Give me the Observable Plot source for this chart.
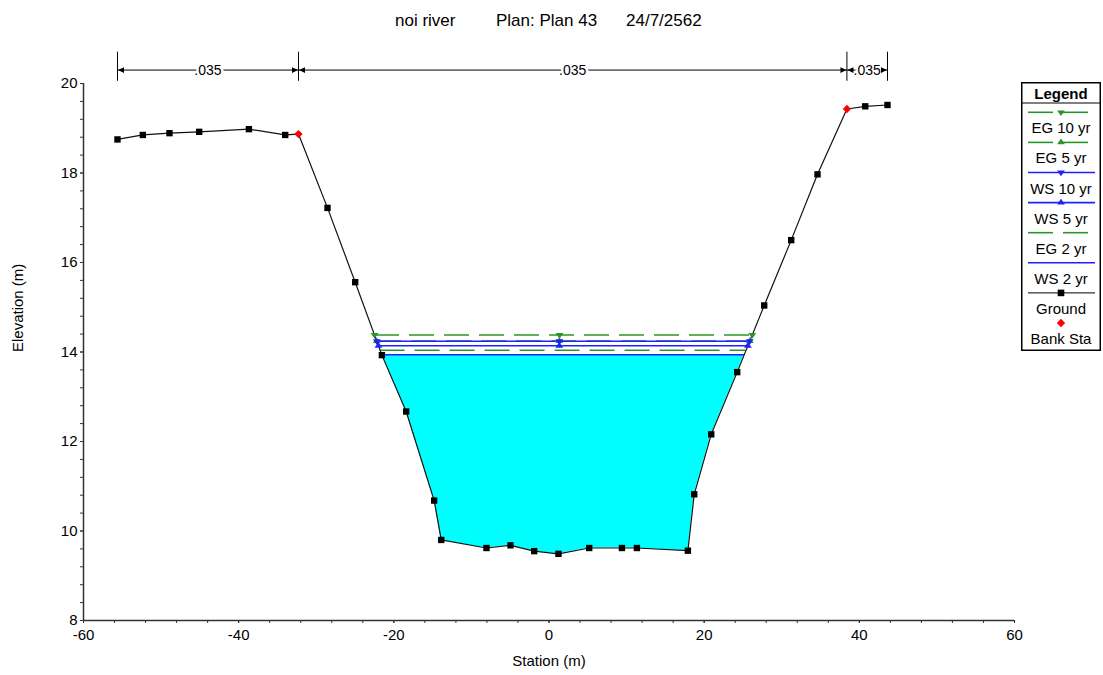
<!DOCTYPE html>
<html><head><meta charset="utf-8">
<script src="https://cdn.jsdelivr.net/npm/d3@7"></script>
<script src="https://cdn.jsdelivr.net/npm/@observablehq/plot@0.6"></script>
<style>
body{margin:0;background:#fff;font-family:"Liberation Sans",Arial,sans-serif;}
#wrap{position:relative;width:1103px;height:675px;overflow:hidden;background:#fff;}
#title{position:relative;height:30px;font-size:17px;color:#000;}
#title span{position:absolute;top:12px;line-height:17px;white-space:pre;}
#chart svg{display:block;}
#legend{position:absolute;left:1021px;top:82px;z-index:2;}
</style></head><body>
<div id="wrap">
<div id="title"></div>
<div id="chart"></div>
<svg id="legend"></svg>
</div>
<script>
// ---- data ----
const titleParts = ["noi river", "Plan: Plan 43", "24/7/2562"];
const groundStation = [-55.62,-52.35,-48.92,-45.09,-38.68,-34.00,-32.29,-28.55,-24.98,-21.54,-18.41,-14.80,-13.89,-8.06,-4.96,-1.91,1.22,5.18,9.40,11.33,17.90,18.72,20.91,24.26,27.74,31.22,34.61,38.40,40.76,43.63];
const groundElev = [18.75,18.85,18.89,18.92,18.98,18.85,18.87,17.22,15.56,13.93,12.67,10.68,9.80,9.62,9.68,9.55,9.49,9.62,9.62,9.62,9.56,10.82,12.16,13.55,15.04,16.50,17.97,19.43,19.49,19.52];
const bankStations = [-32.29, 38.40];
const profileNames = ["EG 10 yr","EG 5 yr","WS 10 yr","WS 5 yr","EG 2 yr","WS 2 yr"];
const profileElev = [14.38, 14.245, 14.24, 14.14, 14.04, 13.94];
const nValues = [0.035, 0.035, 0.035];
const xTicks = [-60,-40,-20,0,20,40,60];
const yTicks = [8,10,12,14,16,18,20];
const xLabel = "Station (m)";
const yLabel = "Elevation (m)";

// ---- title ----
const titleLeft = [395, 496, 626];
d3.select("#title").selectAll("span").data(titleParts).join("span")
  .style("left", (d,i)=>titleLeft[i]+"px").text(d=>d);

// ---- derived ----
const GREEN = "#2a962a", BLUE = "#2020ff";
const ground = groundStation.map((x,i)=>({x, y: groundElev[i]}));
const isBank = x => bankStations.includes(x);
const bankPts = ground.filter(d=>isBank(d.x));
const plainPts = ground.filter(d=>!isBank(d.x));

function crossings(level){
  const iMin = d3.minIndex(ground, d=>d.y);
  let i = iMin; while (i>0 && ground[i-1].y < level) i--;
  const a = ground[i-1], b = ground[i];
  const xL = a.x + (level-a.y)/(b.y-a.y)*(b.x-a.x);
  let j = iMin; while (j<ground.length-1 && ground[j+1].y < level) j++;
  const c = ground[j], e = ground[j+1];
  const xR = c.x + (level-c.y)/(e.y-c.y)*(e.x-c.x);
  return {xL, xR, i, j};
}
const profiles = profileNames.map((name,k)=>{
  const elev = profileElev[k];
  const cr = crossings(elev);
  return {name, elev, xL: cr.xL, xR: cr.xR, i: cr.i, j: cr.j,
    eg: name.startsWith("EG"),
    dir: name.includes("10 yr") ? "down" : name.includes("5 yr") ? "up" : null};
});
const ws2 = profiles.find(p=>p.name==="WS 2 yr");
const water = [{x: ws2.xL, y: ws2.elev, top: ws2.elev},
  ...ground.slice(ws2.i, ws2.j+1).map(d=>({...d, top: ws2.elev})),
  {x: ws2.xR, y: ws2.elev, top: ws2.elev}];
const markerPts = profiles.filter(p=>p.dir).flatMap(p=>[p.xL,(p.xL+p.xR)/2 - 0.5,p.xR].map(x=>({x, y:p.elev, p})));

// n-value annotation
const nStations = [groundStation[0], ...bankStations, groundStation[groundStation.length-1]];
const nSegs = nValues.map((v,k)=>({x1: nStations[k], x2: nStations[k+1], mid:(nStations[k]+nStations[k+1])/2, label: d3.format(".3f")(v).replace(/^0/,"")}));
const yTop = d3.max(yTicks);
const nY = yTop + 0.30;

// custom symbols
const triDown = {draw(ctx, size){const r=Math.sqrt(size/Math.PI);const w=1.3*r,h=1.9*r;ctx.moveTo(-w,-h/3);ctx.lineTo(w,-h/3);ctx.lineTo(0,2*h/3);ctx.closePath();}};
const triUp = {draw(ctx, size){const r=Math.sqrt(size/Math.PI);const w=1.3*r,h=1.9*r;ctx.moveTo(-w,h/3);ctx.lineTo(w,h/3);ctx.lineTo(0,-2*h/3);ctx.closePath();}};
const diamond = {draw(ctx, size){const r=Math.sqrt(size/Math.PI)*1.15;ctx.moveTo(0,-r);ctx.lineTo(r,0);ctx.lineTo(0,r);ctx.lineTo(-r,0);ctx.closePath();}};
const arrowL = {draw(ctx){ctx.moveTo(0.5,0);ctx.lineTo(6.5,-2.8);ctx.lineTo(6.5,2.8);ctx.closePath();}};
const arrowR = {draw(ctx){ctx.moveTo(-0.5,0);ctx.lineTo(-6.5,-2.8);ctx.lineTo(-6.5,2.8);ctx.closePath();}};

const minorX = d3.range(-60, 61, 4);
const minorY = d3.range(0, 31).map(i=>8+i*0.4);

const chart = Plot.plot({
  width: 1103, height: 645,
  marginTop: 53, marginBottom: 55, marginLeft: 83, marginRight: 89,
  x: {domain: [-60, 60]},
  y: {domain: [8, 20]},
  style: {fontFamily: "'Liberation Sans', Arial, sans-serif", fontSize: "15px", color: "black", background: "white", overflow: "visible"},
  marks: [
    Plot.areaY(water, {x: "x", y1: "y", y2: "top", fill: "#00ffff", curve: "linear"}),
    Plot.ruleY(profiles.filter(p=>p.eg), {y: "elev", x1: "xL", x2: "xR", stroke: GREEN, strokeWidth: 1.6, strokeDasharray: "25,10"}),
    Plot.ruleY(profiles.filter(p=>!p.eg), {y: "elev", x1: "xL", x2: "xR", stroke: BLUE, strokeWidth: 1.6}),
    Plot.line(ground, {x: "x", y: "y", stroke: "#111", strokeWidth: 1.2}),
    Plot.dot(markerPts.filter(d=>d.p.eg && d.p.dir==="down"), {x:"x", y:"y", symbol: triDown, r: 3, fill: GREEN, stroke: "none"}),
    Plot.dot(markerPts.filter(d=>d.p.eg && d.p.dir==="up"), {x:"x", y:"y", symbol: triUp, r: 3, fill: GREEN, stroke: "none"}),
    Plot.dot(markerPts.filter(d=>!d.p.eg && d.p.dir==="down"), {x:"x", y:"y", symbol: triDown, r: 3, fill: BLUE, stroke: "none"}),
    Plot.dot(markerPts.filter(d=>!d.p.eg && d.p.dir==="up"), {x:"x", y:"y", symbol: triUp, r: 3, fill: BLUE, stroke: "none"}),
    Plot.dot(plainPts, {x: "x", y: "y", symbol: "square", r: 3.6, fill: "black", stroke: "none"}),
    Plot.dot(bankPts, {x: "x", y: "y", symbol: diamond, r: 3.6, fill: "red", stroke: "none"}),
    // n-value annotation
    Plot.ruleX(nStations, {y1: yTop + 0.05, y2: yTop + 0.70, stroke: "black", strokeWidth: 1}),
    Plot.link(nSegs, {x1: "x1", x2: "x2", y1: () => nY, y2: () => nY, stroke: "black", strokeWidth: 1}),
    Plot.text(nSegs, {x: "mid", y: () => nY, text: "label", fontSize: 14, fill: "black", stroke: "white", strokeWidth: 5}),
    Plot.dot(nSegs, {x: "x1", y: () => nY, symbol: arrowL, r: 3, fill: "black", stroke: "none"}),
    Plot.dot(nSegs, {x: "x2", y: () => nY, symbol: arrowR, r: 3, fill: "black", stroke: "none"}),
    // axes
    Plot.axisX({ticks: minorX, tickSize: 3, tickFormat: () => "", label: null, stroke: "#333"}),
    Plot.axisX({ticks: xTicks, tickSize: 3, tickPadding: 6, fontSize: 15, label: null, stroke: "#333", fill: "black", tickFormat: d => String(d)}),
    Plot.axisY({ticks: minorY, tickSize: 3, tickFormat: () => "", label: null, stroke: "#333"}),
    Plot.axisY({ticks: yTicks, tickSize: 3, tickPadding: 3, fontSize: 15, label: null, stroke: "#333", fill: "black", tickFormat: d => String(d)}),
    Plot.ruleX([-60], {stroke: "#333", strokeWidth: 1.5}),
    Plot.ruleY([8], {stroke: "#333", strokeWidth: 1.5}),
    Plot.text([xLabel], {frameAnchor: "bottom", dy: 45, fontSize: 15, fill: "black"}),
    Plot.text([yLabel], {frameAnchor: "left", dx: -65, rotate: -90, fontSize: 15, fill: "black"})
  ]
});
document.getElementById("chart").appendChild(chart);

// ---- legend ----
const legendItems = [...profiles.map(p=>({name: p.name, kind: p.eg ? "eg" : "ws", dir: p.dir})),
  {name: "Ground", kind: "ground"}, {name: "Bank Sta", kind: "bank"}];
const lg = d3.select("#legend").attr("width", 80).attr("height", 269)
  .style("font-family", "'Liberation Sans', Arial, sans-serif");
lg.append("rect").attr("x",0.75).attr("y",0.75).attr("width",78.5).attr("height",267.5)
  .attr("fill","white").attr("stroke","black").attr("stroke-width",1.5);
lg.append("line").attr("x1",0).attr("x2",80).attr("y1",21).attr("y2",21).attr("stroke","black").attr("stroke-width",1.2);
lg.append("text").attr("x",40).attr("y",11).attr("text-anchor","middle").attr("dominant-baseline","central")
  .attr("font-weight","bold").attr("font-size",15).text("Legend");
const triPath = (cx, cy, dir) => dir==="down" ? `M${cx-3.9},${cy-1.9}L${cx+3.9},${cy-1.9}L${cx},${cy+3.8}Z` : `M${cx-3.9},${cy+1.9}L${cx+3.9},${cy+1.9}L${cx},${cy-3.8}Z`;
legendItems.forEach((it, i) => {
  const ly = 30.3 + 30.1*i, cx = 40;
  const g = lg.append("g");
  if (it.kind === "eg") {
    g.append("line").attr("x1",7).attr("x2",32).attr("y1",ly).attr("y2",ly).attr("stroke",GREEN).attr("stroke-width",1.6);
    g.append("line").attr("x1",42).attr("x2",67).attr("y1",ly).attr("y2",ly).attr("stroke",GREEN).attr("stroke-width",1.6);
    if (it.dir) g.append("path").attr("d", triPath(cx, ly, it.dir)).attr("fill", GREEN);
  } else if (it.kind === "ws") {
    g.append("line").attr("x1",7).attr("x2",74).attr("y1",ly).attr("y2",ly).attr("stroke",BLUE).attr("stroke-width",1.6);
    if (it.dir) g.append("path").attr("d", triPath(cx, ly, it.dir)).attr("fill", BLUE);
  } else if (it.kind === "ground") {
    g.append("line").attr("x1",7).attr("x2",74).attr("y1",ly).attr("y2",ly).attr("stroke","black").attr("stroke-width",1);
    g.append("rect").attr("x",cx-3.3).attr("y",ly-3.3).attr("width",6.6).attr("height",6.6).attr("fill","black");
  } else {
    g.append("path").attr("d",`M${cx},${ly-4.2}L${cx+4.2},${ly}L${cx},${ly+4.2}L${cx-4.2},${ly}Z`).attr("fill","red");
  }
  g.append("text").attr("x",cx).attr("y",ly+15.5).attr("text-anchor","middle").attr("dominant-baseline","central")
    .attr("font-size",15).text(it.name);
});
</script>
</body></html>
